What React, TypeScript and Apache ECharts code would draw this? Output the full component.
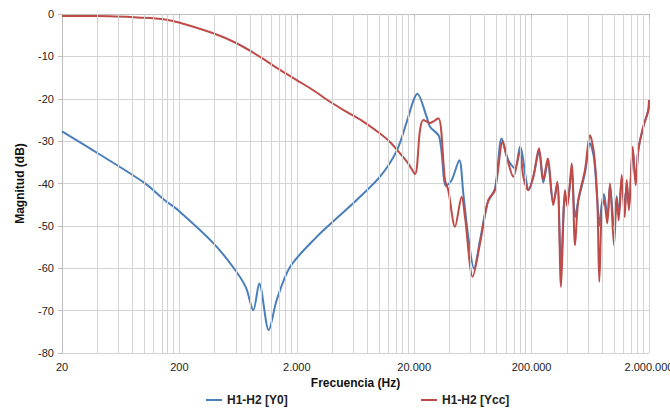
import React, { useEffect, useRef } from "react";
import * as echarts from "echarts";

// Frequencies in Hz and magnitudes in dB
const freqY0 = [20, 40, 100, 151, 195, 387, 572, 734, 852, 958, 1153, 1349, 1751, 2954, 4667, 6474, 10226, 14192, 17266, 19648, 21254, 25558, 27266, 32726, 37316, 41730, 48440, 52380, 57780, 64640, 72700, 83900, 97540, 111280, 126640, 144440, 159320, 181700, 187480, 206800, 231200, 251680, 274260, 306020, 331100, 356000, 385060, 402740, 439260, 468540, 499880, 570060, 628780, 680060, 725480, 754600, 790900, 827440, 882800, 930800, 1006800, 1061500, 1103900, 1171000, 1241800, 1291600, 1350800, 1452600, 1540400, 1621200, 1788600, 1972600, 2000000];
const dbY0 = [-27.7, -32.8, -39.8, -44, -46.3, -54, -59.7, -64.4, -69.9, -63.6, -74.6, -67.5, -59.7, -52.6, -47.5, -43.9, -38.4, -32.3, -25.5, -20.5, -18.8, -24.3, -26.6, -29, -40.6, -39.2, -34.5, -42.3, -52.6, -60.1, -53.4, -44.7, -41.2, -29.4, -34.5, -36.4, -31.3, -40, -41.6, -38.4, -32.5, -39.8, -35, -44.5, -40, -59, -43, -44.5, -37, -48, -44, -37.5, -30.5, -34, -44, -50, -45, -42.5, -48, -40.5, -50, -43, -47.5, -39, -46, -40, -45.5, -32, -39.5, -32.1, -26.6, -22.7, -20.3];

const freqYcc = [20, 40, 100, 151, 198, 394, 615, 972, 1438, 1996, 2764, 3837, 5322, 7370, 10226, 12440, 15136, 17810, 20316, 22408, 23906, 27266, 32092, 36592, 39038, 44520, 50760, 54160, 63000, 72700, 85560, 97540, 113480, 122740, 139700, 159320, 170000, 187480, 206800, 231200, 251680, 274260, 306020, 331100, 356000, 385060, 402740, 439260, 468540, 499880, 570060, 628780, 680060, 725480, 754600, 790900, 827440, 882800, 930800, 1006800, 1061500, 1103900, 1171000, 1241800, 1291600, 1350800, 1452600, 1540400, 1621200, 1788600, 1972600, 2000000];
const dbYcc = [-0.5, -0.5, -0.9, -1.3, -2.0, -4.6, -6.9, -10.1, -13.2, -15.6, -18, -20.7, -23.1, -25.4, -28.2, -30.2, -32.9, -35.3, -37.8, -27.4, -25, -25.7, -24.6, -39.2, -41.6, -50.2, -43.1, -47.9, -62, -54.2, -43.9, -41.6, -30.1, -33.7, -38.4, -32.5, -38.4, -41.6, -38.4, -31.7, -39.2, -34.1, -45.1, -39.6, -64.4, -41.6, -45.5, -35.3, -54.6, -43.9, -36.8, -28.6, -32.9, -43.9, -63.2, -46.3, -43.9, -49.4, -40, -54.6, -43.5, -48.7, -38, -47.9, -39.2, -46.3, -31.3, -40.4, -32.1, -26.6, -22.7, -20.3];

const baseFreq = 20;
const decades = [0, 1, 2, 3, 4];
const minorMultipliers = [2, 3, 4, 5, 6, 7, 8, 9];
const seriesNames = ["H1-H2 [Y0]", "H1-H2 [Ycc]"];

const toAxis = (f: number) => Math.log10(f / baseFreq);
const fmtNum = (n: number) => String(n).replace(/\B(?=(\d{3})+(?!\d))/g, ".");

const GRID = "#d3d3d3";
const FONT = "'Liberation Sans', Arial, sans-serif";
const BLUE = "#4a7ebb";
const RED = "#be4b48";

export default function App() {
  const ref = useRef<HTMLDivElement>(null);
  useEffect(() => {
    if (!ref.current) return;
    const chart = echarts.init(ref.current, null, { renderer: "svg" });
    const minorLines: any[] = [];
    decades.forEach((d) =>
      minorMultipliers.forEach((k) => minorLines.push({ xAxis: d + Math.log10(k) }))
    );
    const legendText = { fontFamily: FONT, fontWeight: "bold", fontSize: 12, color: "#222" };
    chart.setOption({
      animation: false,
      backgroundColor: "#ffffff",
      grid: { left: 62, right: 21, top: 14, bottom: 57, outerBoundsMode: "none", containLabel: false },
      legend: [
        {
          data: [{ name: seriesNames[0], icon: "rect", itemStyle: { color: BLUE } }],
          left: 206,
          top: 394,
          padding: 0,
          itemWidth: 16,
          itemHeight: 2,
          itemGap: 2,
          textStyle: legendText,
        },
        {
          data: [{ name: seriesNames[1], icon: "rect", itemStyle: { color: RED } }],
          left: 421,
          top: 394,
          padding: 0,
          itemWidth: 16,
          itemHeight: 2,
          itemGap: 2,
          textStyle: legendText,
        },
      ],
      xAxis: {
        type: "value",
        min: 0,
        max: 5,
        interval: 1,
        name: "Frecuencia (Hz)",
        nameLocation: "middle",
        nameGap: 23,
        nameTextStyle: { fontFamily: FONT, fontWeight: "bold", fontSize: 12, color: "#111" },
        axisLine: { show: true, lineStyle: { color: "#bdbdbd", width: 1 } },
        axisTick: { show: true, length: 4, lineStyle: { color: "#bdbdbd" } },
        axisLabel: {
          margin: 8,
          fontFamily: FONT,
          fontSize: 11,
          color: "#222",
          formatter: (v: number) => fmtNum(Math.round(baseFreq * Math.pow(10, v))),
        },
        splitLine: { show: true, lineStyle: { color: GRID, width: 1 } },
      },
      yAxis: {
        type: "value",
        min: -80,
        max: 0,
        interval: 10,
        name: "Magnitud (dB)",
        nameLocation: "middle",
        nameGap: 36,
        nameTextStyle: { fontFamily: FONT, fontWeight: "bold", fontSize: 12, color: "#111" },
        axisLine: { show: true, lineStyle: { color: "#bdbdbd", width: 1 } },
        axisTick: { show: true, length: 4, lineStyle: { color: "#bdbdbd" } },
        axisLabel: { margin: 8, fontFamily: FONT, fontSize: 11, color: "#222" },
        splitLine: { show: true, lineStyle: { color: GRID, width: 1 } },
      },
      series: [
        {
          name: "minor",
          type: "line",
          data: [],
          silent: true,
          z: 1,
          markLine: {
            silent: true,
            symbol: ["none", "none"],
            label: { show: false },
            lineStyle: { color: GRID, width: 1, type: "solid" },
            emphasis: { disabled: true },
            data: minorLines,
          },
        },
        {
          name: seriesNames[0],
          type: "line",
          z: 3,
          symbol: "none",
          smooth: 0.3,
          lineStyle: { color: BLUE, width: 2 },
          itemStyle: { color: BLUE },
          data: freqY0.map((f, i) => [toAxis(f), dbY0[i]]),
        },
        {
          name: seriesNames[1],
          type: "line",
          z: 4,
          symbol: "none",
          smooth: 0.3,
          lineStyle: { color: RED, width: 2 },
          itemStyle: { color: RED },
          data: freqYcc.map((f, i) => [toAxis(f), dbYcc[i]]),
        },
      ],
    });
    return () => chart.dispose();
  }, []);
  return <div ref={ref} style={{ width: 670, height: 410, position: "absolute", left: 0, top: 0 }} />;
}
